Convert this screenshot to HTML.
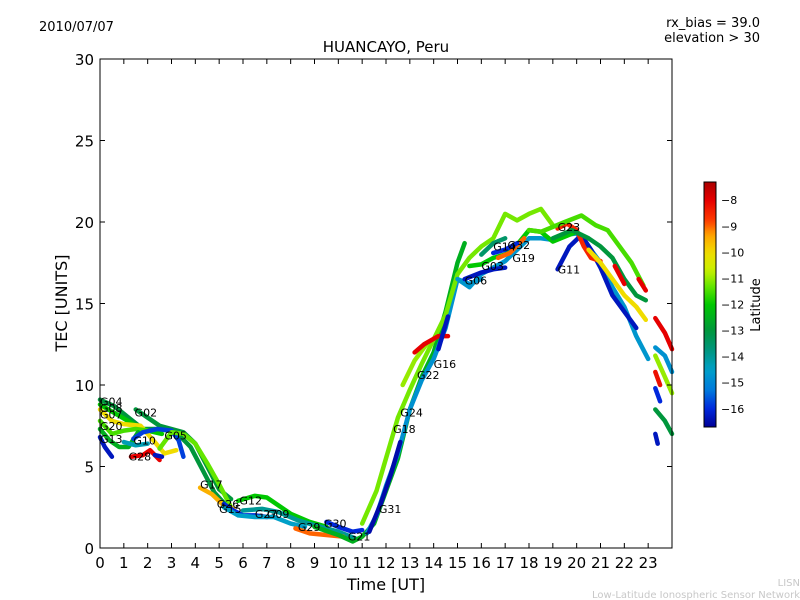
<!DOCTYPE html>
<html><head><meta charset="utf-8"><style>
body{margin:0;background:#fff}
svg{display:block;font-family:"DejaVu Sans","Liberation Sans",sans-serif}
</style></head><body>
<svg id="c" width="800" height="600">
<text x="39" y="31" font-size="13">2010/07/07</text>
<text x="386" y="52" font-size="15" text-anchor="middle">HUANCAYO, Peru</text>
<text x="760" y="27" font-size="13" text-anchor="end">rx_bias = 39.0</text>
<text x="760" y="42" font-size="13" text-anchor="end">elevation &gt; 30</text>
<text transform="translate(67,303) rotate(-90)" font-size="16" text-anchor="middle">TEC [UNITS]</text>
<text x="386" y="590" font-size="16" text-anchor="middle">Time [UT]</text>
<text x="800" y="586" font-size="10" fill="#c8c8c8" text-anchor="end">LISN</text>
<text x="800" y="598" font-size="10" fill="#c8c8c8" text-anchor="end">Low-Latitude Ionospheric Sensor Network</text>
<defs><linearGradient id="cbg" x1="0" y1="1" x2="0" y2="0"></linearGradient></defs>
<g id="marks"></g>
<rect x="100" y="59" width="572" height="489" fill="none" stroke="#000"/>
<g id="axes"></g>
<rect x="704" y="182" width="12" height="245" fill="url(#cbg)" stroke="#000"/>
<text transform="translate(760,305) rotate(-90)" font-size="13" text-anchor="middle">Latitude</text>
</svg>
<script>
const xTicks=[0,1,2,3,4,5,6,7,8,9,10,11,12,13,14,15,16,17,18,19,20,21,22,23];
const yTicks=[0,5,10,15,20,25,30];
const cbTicks=[-8,-9,-10,-11,-12,-13,-14,-15,-16];
const latMin=-16.7, latMax=-7.3;
const trackNames=["G04","G08","G07","G20","G13","B1","G02","G10","G28","B2","G05","C1","G17","G26","G15","G12","G09","G29","G30","G21","G31","G18","G24","G22","G16","B3","G06","G03","G14","G32","G19","B4","G11","G23","H1","H2","H3","R1","R2","E1","E2","E3","E4","E5","E6","E7"];
const trackLats=[-13,-12,-10,-11.5,-12.5,-16.3,-13,-15.8,-8,-16.3,-11.3,-14.3,-9.5,-16,-14.5,-12,-14,-9,-16,-12.5,-14.8,-16.5,-11.2,-11,-8,-16.3,-14.7,-12,-13.5,-9,-16,-16.3,-16.3,-8.5,-11.5,-13,-10,-8,-8,-8,-14.8,-11,-8.2,-16,-13,-16.3];
const trackPts=[
[[0,9.1],[0.6,8.7],[1.2,8.0],[1.8,7.3],[2.5,7.3],[3.2,7.1],[3.8,6.2],[4.3,4.8],[4.8,3.4],[5.3,2.6]],
[[0,8.8],[0.7,8.2],[1.4,7.6],[2,7.2],[2.6,7.0]],
[[0,8.5],[0.5,7.8],[1,7.6],[1.7,7.5],[2.3,6.5],[2.7,5.8],[3.2,6.0]],
[[0,7.8],[0.5,7.0],[1,7.2],[1.5,7.3],[2,7.2]],
[[0,7.3],[0.4,6.6],[0.8,6.2],[1.2,6.2],[1.6,7.1]],
[[0,6.8],[0.2,6.2],[0.5,5.6]],
[[1.5,8.5],[2,8.0],[2.5,7.5],[3,7.3],[3.5,7.1],[4,6.4],[4.5,5.0],[5,3.6],[5.5,3.0]],
[[1.4,6.7],[1.8,7.1],[2.4,7.3],[3,7.2],[3.3,6.6],[3.5,5.6]],
[[1.3,5.6],[1.8,5.7],[2.1,6.0],[2.5,5.4]],
[[2.3,5.7],[2.6,5.6]],
[[2.5,6.1],[3.0,7.1],[3.5,7.0],[4,6.4],[4.5,5.2],[5,3.9],[5.5,2.5]],
[[1.0,6.5],[1.5,6.3],[2.0,6.4]],
[[4.2,3.7],[4.7,3.3],[5.2,2.6],[5.6,2.4]],
[[5.2,2.7],[5.6,2.3],[6,2.0],[6.5,2.0],[7,1.9]],
[[5.2,2.5],[5.8,2.0],[6.5,1.9],[7.3,1.9],[8,1.5],[8.6,1.3]],
[[5.8,2.9],[6.5,3.2],[7,3.1],[7.5,2.6],[8,2.1],[8.8,1.6],[9.5,1.3]],
[[6,2.3],[6.8,2.4],[7.5,2.2],[8.3,1.7],[9,1.4],[10,1.0],[10.7,0.6]],
[[8.2,1.2],[8.8,0.9],[9.5,0.8],[10.2,0.7]],
[[9.5,1.6],[10,1.3],[10.6,1.0],[11.0,1.1]],
[[9,1.3],[10,0.8],[10.6,0.4],[11,0.7],[11.5,1.5],[12,3.5],[12.5,5.5],[13,8.5],[13.5,10.5],[14,12],[14.5,14.5],[15,17.5],[15.3,18.7]],
[[11.2,0.9],[11.6,2],[12,3.8],[12.5,5.8],[13,8.5],[13.5,10.3],[14,11.6],[14.5,13.5],[15,16.5],[15.5,16.2],[16,16.5]],
[[11.3,1],[11.8,2.8],[12.2,4.5],[12.6,6.5]],
[[11,1.5],[11.6,3.5],[12.1,6],[12.5,8.0],[13,9.7],[13.5,11.3],[14,12.8],[14.5,14.3],[15,16.8],[15.5,17.8],[16,18.5],[16.5,19],[17,20.5],[17.5,20.1],[18,20.5],[18.5,20.8],[19,19.8]],
[[12.7,10],[13.2,11.5],[13.7,12.5]],
[[13.2,12],[13.6,12.5],[14.2,13.0],[14.6,13.0]],
[[14.2,12.2],[14.6,14.2]],
[[15,16.5],[15.5,16.0],[16,16.8],[16.5,17.2],[17,17.6],[17.5,18.3],[18,19],[18.5,19.0],[19,18.9],[19.5,19.2],[20,19.3],[20.5,18.5],[21,17.5],[21.5,16],[22,14.8],[22.5,13.0],[23,11.6]],
[[15.5,17.3],[16,17.4],[16.5,17.8],[17,18.0],[17.5,18.6],[18,19.5],[18.5,19.4],[19,18.8],[19.5,19.1],[20,19.4]],
[[16,18.0],[16.5,18.7],[17,19.0]],
[[16.7,17.8],[17.2,18.1],[17.8,19.0]],
[[16.5,18.1],[17,18.3],[17.5,18.7]],
[[15.3,16.5],[16,16.9],[16.5,17.1],[17,17.2]],
[[19.2,17.1],[19.7,18.5],[20.2,19.2],[20.6,18.3],[21,17.2],[21.5,15.5],[22,14.5],[22.5,13.5]],
[[19.2,19.6],[19.6,19.9],[20,19.5],[20.3,18.5],[20.6,17.8],[21,17.6]],
[[18,19.5],[18.5,19.4],[19.5,20.0],[20.2,20.4],[20.8,19.8],[21.3,19.5],[21.8,18.5],[22.3,17.5],[22.8,16.1]],
[[19,19.0],[19.8,19.5],[20.5,19],[21,18.5],[21.5,17.8],[22,16.5],[22.5,15.5],[22.9,15.2]],
[[20.5,18.3],[21,17.5],[21.5,16.5],[22,15.5],[22.5,14.8],[22.9,14.0]],
[[21.6,17.3],[22,16.2]],
[[22.6,16.5],[22.9,15.8]],
[[23.3,14.1],[23.7,13.2],[24,12.2]],
[[23.3,12.3],[23.7,11.8],[24,10.8]],
[[23.3,11.8],[23.7,10.5],[24,9.5]],
[[23.3,10.8],[23.5,10.0]],
[[23.3,9.8],[23.5,9.0]],
[[23.3,8.5],[23.7,7.8],[24,7.0]],
[[23.3,7.0],[23.4,6.4]]
];
const labelNames=["G04","G08","G07","G20","G13","G02","G10","G28","G05","G17","G26","G15","G12","G27","G09","G29","G30","G21","G31","G18","G24","G22","G16","G06","G03","G14","G32","G19","G23","G11"];
const labelT=[0,0,0,0,0,1.45,1.4,1.2,2.7,4.2,4.9,5.0,5.85,6.5,7.0,8.3,9.4,10.4,11.7,12.3,12.6,13.3,14.0,15.3,16.0,16.5,17.1,17.3,19.2,19.2];
const labelV=[9.0,8.6,8.2,7.5,6.7,8.3,6.6,5.6,6.9,3.9,2.7,2.4,2.9,2.1,2.1,1.3,1.5,0.7,2.4,7.3,8.3,10.6,11.3,16.4,17.3,18.5,18.6,17.8,19.7,17.1];
const NS="http://www.w3.org/2000/svg";
const X=t=>100+t*572/24, Y=v=>548-v*489/30;
const cmLat=[-16.7,-16,-15.3,-14.5,-13.8,-13,-12,-11.3,-10.7,-10,-9.3,-8.8,-8,-7.3];
const cmCol=[[0,0,150],[0,40,220],[0,120,220],[0,160,200],[0,150,130],[0,150,60],[0,200,0],[100,230,0],[200,240,0],[240,220,0],[255,160,0],[255,60,0],[230,0,0],[170,0,0]];
function cmap(lat){lat=Math.max(latMin,Math.min(latMax,lat));
for(let i=0;i<cmLat.length-1;i++){if(lat<=cmLat[i+1]){const f=(lat-cmLat[i])/(cmLat[i+1]-cmLat[i]);const a=cmCol[i],b=cmCol[i+1];
return `rgb(${Math.round(a[0]+(b[0]-a[0])*f)},${Math.round(a[1]+(b[1]-a[1])*f)},${Math.round(a[2]+(b[2]-a[2])*f)})`;}}
return 'rgb(170,0,0)';}
const marks=document.getElementById('marks');
trackPts.forEach((pts,i)=>{
const p=document.createElementNS(NS,'polyline');
p.setAttribute('points',pts.map(q=>X(q[0])+','+Y(q[1])).join(' '));
p.setAttribute('fill','none');p.setAttribute('stroke',cmap(trackLats[i]));
p.setAttribute('stroke-width','4.5');p.setAttribute('stroke-linejoin','round');p.setAttribute('stroke-linecap','round');


marks.appendChild(p);});
labelNames.forEach((n,i)=>{
const t=document.createElementNS(NS,'text');
t.setAttribute('x',X(labelT[i]));t.setAttribute('y',Y(labelV[i])+4);t.setAttribute('font-size','11');t.textContent=n;


marks.appendChild(t);});
const ax=document.getElementById('axes');
function line(x1,y1,x2,y2){const l=document.createElementNS(NS,'line');l.setAttribute('x1',x1);l.setAttribute('y1',y1);l.setAttribute('x2',x2);l.setAttribute('y2',y2);l.setAttribute('stroke','#000');ax.appendChild(l);return l;}
xTicks.forEach(t=>{
const a=line(X(t),548,X(t),543);


line(X(t),59,X(t),64);
const tx=document.createElementNS(NS,'text');tx.setAttribute('x',X(t));tx.setAttribute('y',568);tx.setAttribute('font-size','15');tx.setAttribute('text-anchor','middle');tx.textContent=t;


ax.appendChild(tx);});
yTicks.forEach(v=>{
const a=line(100,Y(v),105,Y(v));


line(672,Y(v),667,Y(v));
const tx=document.createElementNS(NS,'text');tx.setAttribute('x',94);tx.setAttribute('y',Y(v)+6);tx.setAttribute('font-size','15');tx.setAttribute('text-anchor','end');tx.textContent=v;


ax.appendChild(tx);});
const g=document.getElementById('cbg');
for(let k=0;k<=40;k++){const s=document.createElementNS(NS,'stop');s.setAttribute('offset',k/40);s.setAttribute('stop-color',cmap(latMin+(latMax-latMin)*k/40));g.appendChild(s);}
const CY=v=>182+(latMax-v)*245/(latMax-latMin);
cbTicks.forEach(v=>{
const a=line(704,CY(v),707,CY(v));


line(716,CY(v),713,CY(v));
const tx=document.createElementNS(NS,'text');tx.setAttribute('x',721);tx.setAttribute('y',CY(v)+4);tx.setAttribute('font-size','11');tx.textContent='\u2212'+Math.abs(v);


ax.appendChild(tx);});
</script>
</body></html>
